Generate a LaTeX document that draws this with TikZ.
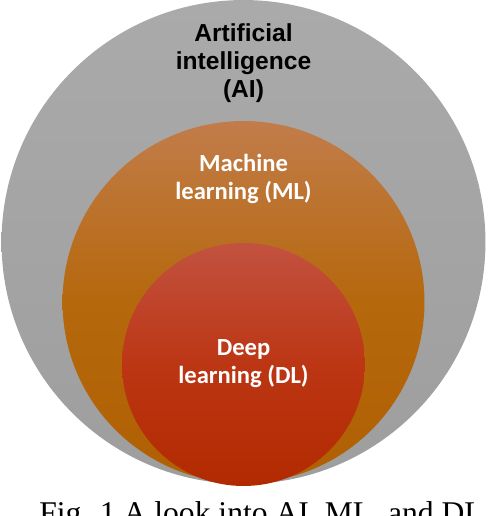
\documentclass[tikz,border=0pt]{standalone}
\usepackage{fontspec}
\setmainfont{Liberation Serif}
\newfontfamily\arialfont{Liberation Sans}
\newfontfamily\carlitofont{Carlito}
\usepackage{xcolor}
\usepackage{tikz}
\usetikzlibrary{positioning}

\definecolor{aitop}{HTML}{AAAAAA}
\definecolor{aibot}{HTML}{9E9E9E}
\definecolor{mltop}{HTML}{C27C4A}
\definecolor{mlmid}{HTML}{B5680C}
\definecolor{mlbot}{HTML}{B06003}
\definecolor{dltop}{HTML}{C25240}
\definecolor{dlmid}{HTML}{BC3614}
\definecolor{dlbot}{HTML}{B22A00}

\begin{document}
\begin{tikzpicture}[
  x=0.02cm, y=-0.02cm,
  disc/.style={circle, draw=none, inner sep=0pt},
  lbl/.style={align=center, font=\fontsize{14}{16}\selectfont\bfseries}
]
\clip (0,0) rectangle (488,516);
% nested sets
\node[disc, top color=aitop, bottom color=aibot, minimum size=9.68cm] (ai) at (243.5,242) {};
\node[disc, top color=mltop, bottom color=mlbot, middle color=mlmid, minimum size=7.24cm] (ml) at (243.5,302) {};
\node[disc, top color=dltop, bottom color=dlbot, middle color=dlmid, minimum size=4.86cm] (dl) at (243.5,364.5) {};
% labels
\node[lbl, text=black, font=\fontsize{14}{16}\selectfont\arialfont\bfseries] (ailabel) at (243.5,63) {Artificial\\intelligence\\(AI)};
\node[lbl, text=white, font=\fontsize{14}{16}\selectfont\carlitofont\bfseries] (mllabel) at (243.5,179) {Machine\\learning (ML)};
\node[lbl, text=white, font=\fontsize{14}{16}\selectfont\carlitofont\bfseries] (dllabel) at (243.5,364) {Deep\\learning (DL)};
% caption
\node[anchor=base, inner sep=0pt, font=\fontsize{18}{20}\selectfont] (caption) at (261.5,523) {Fig. 1 A look into AI, ML, and DL};
\end{tikzpicture}
\end{document}
